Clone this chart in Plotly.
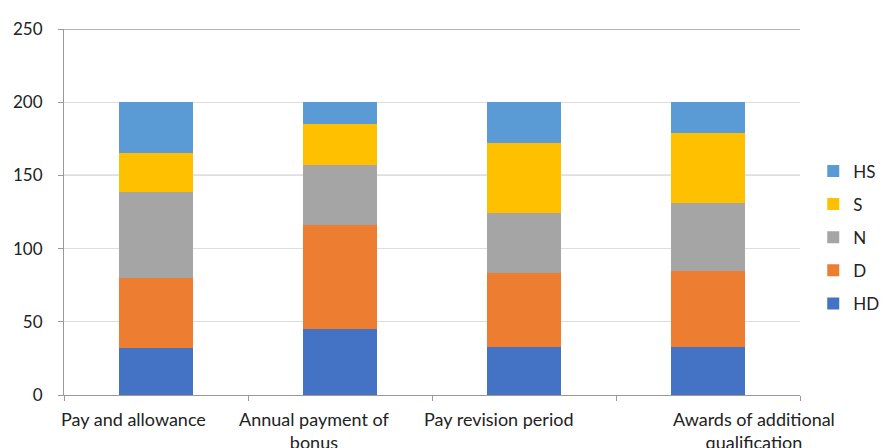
import plotly.graph_objects as go

categories = ["Pay and allowance", "Annual payment of<br>bonus", "Pay revision period", "Awards of additional<br>qualification"]
hd = [32, 45, 33, 33]
d = [48, 71, 50, 52]
n = [59, 41, 41, 46]
s = [26, 28, 48, 48]
hs = [35, 15, 28, 21]
y_ticks = [0, 50, 100, 150, 200, 250]

series = [("HD", hd, "#4472C4"), ("D", d, "#ED7D31"), ("N", n, "#A5A5A5"),
          ("S", s, "#FFC000"), ("HS", hs, "#5B9BD5")]

label_shift = [-23, -26, -25, 46]
FAM = "Lato, Liberation Sans, sans-serif"

fig = go.Figure()
for k, (name, vals, col) in enumerate(series):
    fig.add_trace(go.Bar(x=list(range(len(categories))), y=vals, name=name,
                         marker=dict(color=col, line=dict(width=0)),
                         legendgroup=name, legendrank=len(series) - k))

for i, lab in enumerate(categories):
    fig.add_annotation(x=i, y=0, xref="x", yref="y", text=lab, showarrow=False,
                       yanchor="top", yshift=-11, xshift=label_shift[i],
                       font=dict(family=FAM, size=18, color="#222"),
                       align="center")

for v in [150, 250]:
    fig.add_hline(y=v, line=dict(color="#9a9a9a", width=1.3), layer="below")

fig.update_layout(
    barmode="stack", bargap=0.6,
    width=888, height=448,
    margin=dict(l=56, r=91, t=21, b=61),
    plot_bgcolor="white", paper_bgcolor="white",
    font=dict(family=FAM, size=17, color="#222"),
    showlegend=True,
    legend=dict(traceorder="grouped", tracegroupgap=8,
                x=1.018, xanchor="left", y=0.66, yanchor="top",
                font=dict(family=FAM, size=17, color="#222"),
                itemwidth=30),
    xaxis=dict(range=[-0.5, 3.5], tickvals=[-0.5, 0.5, 1.5, 2.5, 3.5], ticktext=["", "", "", "", ""],
               ticks="outside", ticklen=5, tickcolor="#999", showgrid=False,
               showline=True, linecolor="#999", linewidth=1, zeroline=False,
               automargin=False),
    yaxis=dict(range=[0, 250], tickvals=y_ticks, showgrid=True, gridcolor="#dedede",
               ticks="outside", ticklen=5, tickcolor="#999",
               showline=True, linecolor="#999", linewidth=1, zeroline=False,
               ticklabelstandoff=12, automargin=False),
)

fig.write_html("out.html")
